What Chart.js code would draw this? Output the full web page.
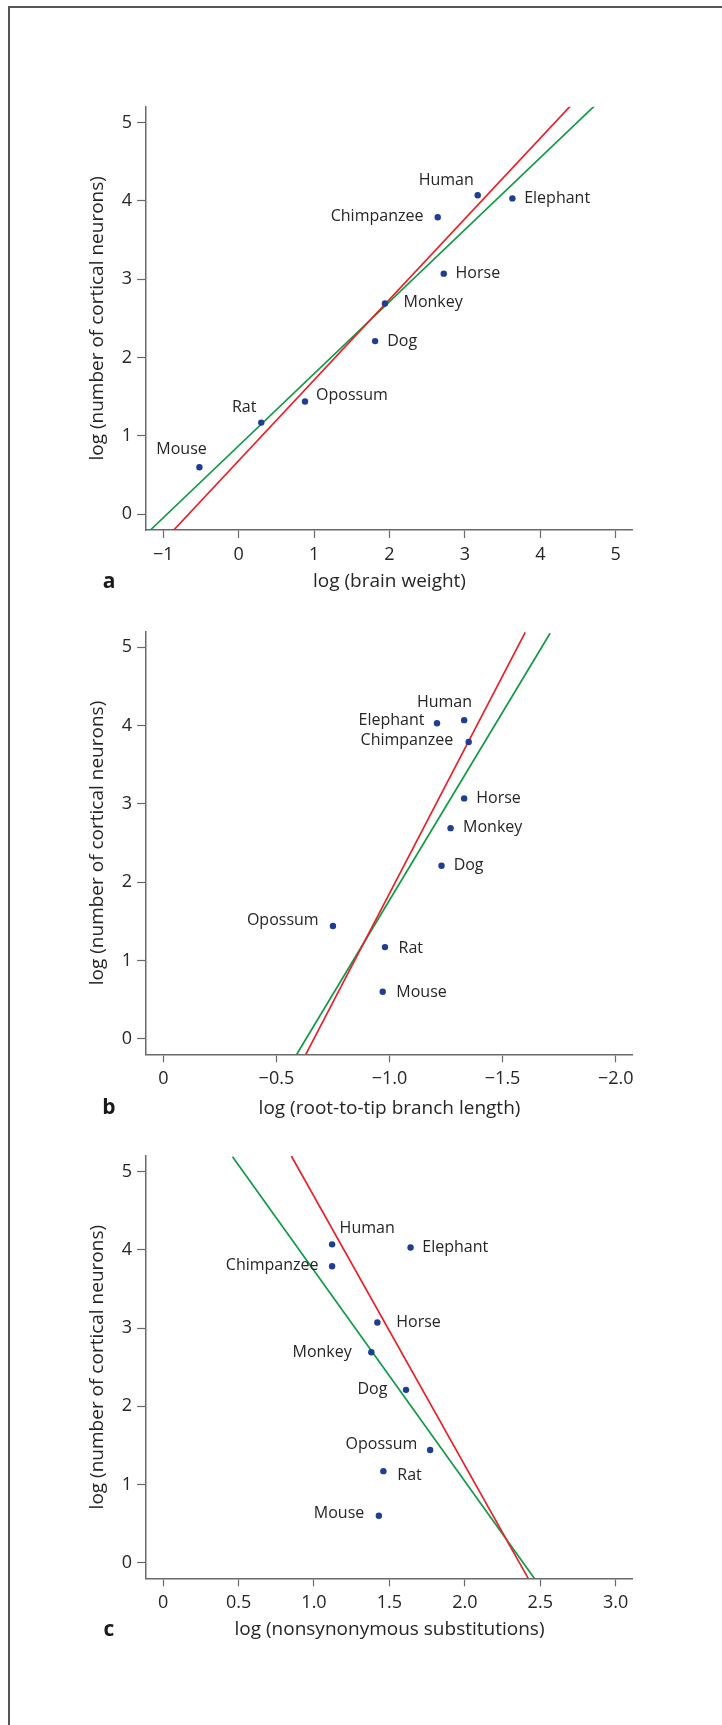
<!DOCTYPE html>
<html lang="en">
  <head>
    <meta charset="UTF-8" />
    <title>Cortical neurons vs brain weight, branch length, substitutions</title>
    <script src="https://cdn.jsdelivr.net/npm/chart.js@4.4.1/dist/chart.umd.min.js"></script>
    <style>
      html, body { margin: 0; padding: 0; background: #fff; }
      body { position: relative; width: 722px; height: 1725px; overflow: hidden; }
      #frame {
        position: absolute; left: 8px; top: 6px; right: 0; bottom: 0;
        border-top: 2px solid #555; border-left: 2px solid #555;
      }
      canvas { position: absolute; left: 0; }
    </style>
  </head>
  <body>
    <div id="frame"></div>
    <canvas id="chartA" width="722" height="610" style="top:0px"></canvas>
    <canvas id="chartB" width="722" height="520" style="top:610px"></canvas>
    <canvas id="chartC" width="722" height="595" style="top:1130px"></canvas>

    <script>
      // species, same order in every panel
      const species = ["Mouse", "Rat", "Opossum", "Dog", "Monkey", "Horse", "Chimpanzee", "Human", "Elephant"];
      const neurons = [0.60, 1.17, 1.44, 2.21, 2.69, 3.07, 3.79, 4.07, 4.03];
      const brainWeight = [-0.52, 0.30, 0.88, 1.81, 1.94, 2.72, 2.64, 3.17, 3.63];
      const branchLength = [-0.97, -0.98, -0.75, -1.23, -1.27, -1.33, -1.35, -1.33, -1.21];
      const substitutions = [1.43, 1.46, 1.77, 1.61, 1.38, 1.42, 1.12, 1.12, 1.64];

      // regression lines (end points)
      const redFitA = [[-0.86, -0.2], [4.40, 5.21]];
      const greenFitA = [[-1.17, -0.2], [4.74, 5.23]];
      const redFitB = [[-0.63, -0.2], [-1.60, 5.19]];
      const greenFitB = [[-0.59, -0.2], [-1.71, 5.18]];
      const redFitC = [[0.85, 5.2], [2.42, -0.2]];
      const greenFitC = [[0.46, 5.19], [2.46, -0.2]];

      // tick labels
      const yTicks = [0, 1, 2, 3, 4, 5];
      const xTicksA = [-1, 0, 1, 2, 3, 4, 5];
      const xTicksB = [0, -0.5, -1, -1.5, -2];
      const xTicksC = [0, 0.5, 1, 1.5, 2, 2.5, 3];

      const FONT = "'Open Sans', sans-serif";
      const TEXT = "#262626";
      const AXIS = "#6a6a6a";
      const RED = "#e8202a";
      const GREEN = "#129a48";
      const DOT = "#1f3d92";

      // label placement next to each dot: [dx, dy, align]
      const labelPosA = [[-17.9, -17.7, "center"], [-17.1, -15, "center"], [11.1, -5.7, "left"], [12.1, 0, "left"],
        [18.6, -1, "left"], [11.8, 0, "left"], [-14.3, -1, "right"], [-3.9, -15.3, "right"], [11.8, 0, "left"]];
      const labelPosB = [[13.6, 0.7, "left"], [13.6, 1.7, "left"], [-14.3, -6, "right"], [12.1, 0, "left"],
        [12.5, -0.7, "left"], [12.1, 0, "left"], [-15.4, -2, "right"], [7.9, -17.7, "right"], [-12.5, -2.7, "right"]];
      const labelPosC = [[-14.6, -2.3, "right"], [13.9, 4, "left"], [-12.9, -6, "right"], [-18.6, 0, "right"],
        [-19.6, 0, "right"], [18.9, 0, "left"], [-13.6, -1, "right"], [7.5, -16, "left"], [11.8, 0, "left"]];

      function fmtMinus(v, decimals) {
        if (v === 0) return "0";
        const s = Math.abs(v).toFixed(decimals);
        return v < 0 ? "\u2212" + s : s;
      }

      function makePanel(o) {
        const titleLH = 19 * 1.2;
        const xAxisH = o.titleGap + titleLH / 2;
        const yAxisW = 146.1 - (97.9 - titleLH / 2);

        const labelPlugin = {
          id: "pointLabels" + o.letter,
          afterDatasetsDraw(chart) {
            const ctx = chart.ctx;
            const meta = chart.getDatasetMeta(0);
            ctx.save();
            ctx.font = "16px " + FONT;
            ctx.fillStyle = TEXT;
            ctx.textBaseline = "middle";
            meta.data.forEach((pt, i) => {
              const [dx, dy, align] = o.labelPos[i];
              ctx.textAlign = align;
              ctx.fillText(species[i], pt.x + dx, pt.y + dy);
            });
            ctx.restore();
          },
          afterDraw(chart) {
            const ctx = chart.ctx;
            ctx.save();
            ctx.font = "bold 21px " + FONT;
            ctx.fillStyle = "#1a1a1a";
            ctx.textAlign = "center";
            ctx.textBaseline = "middle";
            ctx.fillText(o.letter, 109, chart.chartArea.bottom + o.titleGap);
            ctx.restore();
          },
        };

        const lineDs = (pts, color) => ({
          type: "line",
          data: pts.map(([x, y]) => ({ x, y })),
          borderColor: color,
          borderWidth: 1.7,
          pointRadius: 0,
          fill: false,
        });

        return new Chart(document.getElementById(o.id), {
          type: "scatter",
          data: {
            datasets: [
              {
                data: o.xs.map((x, i) => ({ x, y: neurons[i] })),
                backgroundColor: DOT,
                borderColor: DOT,
                pointRadius: 3.2,
                borderWidth: 0,
              },
              lineDs(o.red, RED),
              lineDs(o.green, GREEN),
            ],
          },
          options: {
            responsive: false,
            animation: false,
            events: [],
            layout: {
              padding: {
                left: 146.1 - yAxisW,
                right: 722 - 632.9,
                top: o.areaTop - o.top,
                bottom: o.top + o.height - o.areaBottom - xAxisH,
              },
            },
            plugins: { legend: { display: false }, tooltip: { enabled: false } },
            scales: {
              x: {
                type: "linear",
                min: o.xMin,
                max: o.xMax,
                reverse: !!o.reverse,
                afterBuildTicks: (s) => { s.ticks = o.xTicks.map((v) => ({ value: v })); },
                afterFit: (s) => { s.height = xAxisH; },
                ticks: {
                  autoSkip: false,
                  maxRotation: 0,
                  padding: 6,
                  color: TEXT,
                  font: { size: 18, family: FONT },
                  callback: (v) => fmtMinus(v, o.decimals),
                },
                grid: { drawOnChartArea: false, tickLength: 8, color: AXIS, tickWidth: 1.2 },
                border: { display: true, color: AXIS, width: 1.5 },
                title: {
                  display: true,
                  text: o.xTitle,
                  color: TEXT,
                  padding: 0,
                  font: { size: 19, family: FONT },
                },
              },
              y: {
                type: "linear",
                min: -0.2,
                max: 5.2,
                afterBuildTicks: (s) => { s.ticks = yTicks.map((v) => ({ value: v })); },
                afterFit: (s) => { s.width = yAxisW; },
                ticks: {
                  padding: 5,
                  color: TEXT,
                  font: { size: 18, family: FONT },
                  callback: (v) => String(v),
                },
                grid: { drawOnChartArea: false, tickLength: 9, color: AXIS, tickWidth: 1.2 },
                border: { display: true, color: AXIS, width: 1.5 },
                title: {
                  display: true,
                  text: "log (number of cortical neurons)",
                  color: TEXT,
                  padding: 0,
                  font: { size: 19, family: FONT },
                },
              },
            },
          },
          plugins: [labelPlugin],
        });
      }

      makePanel({
        id: "chartA", letter: "a", top: 0, height: 610, areaTop: 106.7, areaBottom: 530, titleGap: 51.7,
        xs: brainWeight, red: redFitA, green: greenFitA, xTicks: xTicksA, xMin: -1.227, xMax: 5.228,
        decimals: 0, xTitle: "log (brain weight)", labelPos: labelPosA,
      });
      makePanel({
        id: "chartB", letter: "b", top: 610, height: 520, areaTop: 631.7, areaBottom: 1054.3, titleGap: 54,
        xs: branchLength, red: redFitB, green: greenFitB, xTicks: xTicksB, xMin: -2.076, xMax: 0.076,
        reverse: true, decimals: 1, xTitle: "log (root-to-tip branch length)", labelPos: labelPosB,
      });
      makePanel({
        id: "chartC", letter: "c", top: 1130, height: 595, areaTop: 1156, areaBottom: 1578.3, titleGap: 51.7,
        xs: substitutions, red: redFitC, green: greenFitC, xTicks: xTicksC, xMin: -0.113, xMax: 3.114,
        decimals: 1, xTitle: "log (nonsynonymous substitutions)", labelPos: labelPosC,
      });
    </script>
  </body>
</html>
